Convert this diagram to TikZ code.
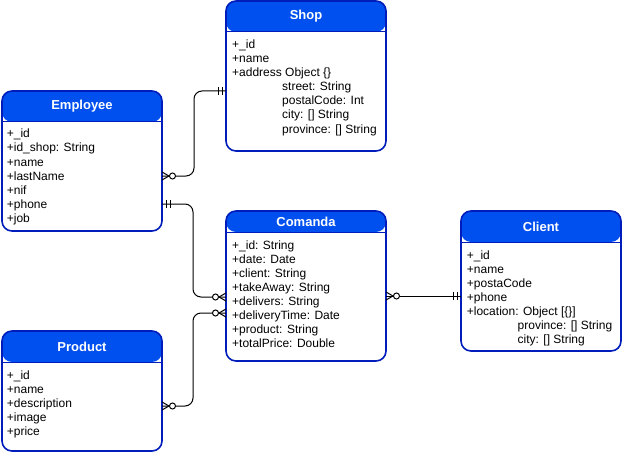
\documentclass[tikz,border=0pt]{standalone}
\usepackage{fontspec}
\setmainfont{Liberation Sans}
\definecolor{hdr}{HTML}{0050EF}
\definecolor{bdr}{HTML}{001DBC}
\newcommand\rows[4]{\foreach \rowtext [count=\i] in {#4} {\node[rowtxt] (#1\i) at (#2,{#3+14*(\i-1)}) {\rowtext};}}
\begin{document}
\begin{tikzpicture}[x=1pt,y=-1pt,
  rowtxt/.style={font=\fontsize{12}{14}\selectfont, inner sep=0pt, anchor=base west},
  title/.style={font=\fontsize{13}{15}\selectfont\bfseries, text=white, inner sep=0pt},
  entbox/.style={draw=bdr, line width=1.6pt, rounded corners=10pt, inner sep=0pt, outer sep=0pt,
    anchor=north west, fill=white, minimum width=160pt,
    path picture={\fill[hdr] (path picture bounding box.north west) rectangle ([yshift=-#1]path picture bounding box.north east);
      \draw[bdr, line width=1pt] ([yshift=-#1]path picture bounding box.north west) -- ([yshift=-#1]path picture bounding box.north east);}},
  entbox/.default=31pt,
  conn/.style={line width=1pt, rounded corners=8pt},
  zm/.pic={\draw[line width=1pt] (0,-4) -- (7,0) -- (0,4); \draw[line width=1pt, fill=white] (10.5,0) circle (3);},
  mo/.pic={\draw[line width=1pt] (4,-4) -- (4,4) (8,-4) -- (8,4);}
]
\useasboundingbox (0,0) rectangle (622,452);

% connectors
\coordinate (empS) at (162,176);
\coordinate (shopE) at (226,91);
\coordinate (empC) at (162,204);
\coordinate (comE) at (226,297);
\coordinate (prodC) at (162,406);
\coordinate (comP) at (226,313);
\coordinate (comL) at (386,296);
\coordinate (cliC) at (461,296);

% entities
\node[entbox, minimum height=150pt] (shop) at (226,1) {};
\node[title] (shopt) at (306,16.5) {Shop};
\rows{shopr}{232}{49}{+\_id, +name, +address Object \{\}}
\rows{shopi}{282}{91}{street: String, postalCode: Int, city: [] String, province: [] String}

\node[entbox, minimum height=140pt] (emp) at (2,91) {};
\node[title] (empt) at (82,106.5) {Employee};
\rows{empr}{6.7}{138}{+\_id, +id\_shop: String, +name, +lastName, +nif, +phone, +job}

\node[entbox=21pt, minimum height=150pt] (com) at (226,211) {};
\node[title] (comt) at (306,221.5) {Comanda};
\rows{comr}{232}{249}{+\_id: String, +date: Date, +client: String, +takeAway: String, +delivers: String, +deliveryTime: Date, +product: String, +totalPrice: Double}

\node[entbox, minimum height=140pt] (cli) at (461,211) {};
\node[title] (clit) at (541,226.5) {Client};
\rows{clir}{466.7}{259}{+\_id, +name, +postaCode, +phone, +location: Object [\{\}]}
\rows{clii}{517.5}{329}{province: [] String, city: [] String}

\node[entbox, minimum height=120pt] (prod) at (2,331) {};
\node[title] (prodt) at (82,346.5) {Product};
\rows{prodr}{6.7}{379}{+\_id, +name, +description, +image, +price}

\draw[conn] (empS) -- ++(32,0) |- (shopE);
\draw[conn] (empC) -- ++(31,0) |- (comE);
\draw[conn] (prodC) -- ++(31,0) |- (comP);
\draw[conn] (comL) -- (cliC);

\pic at (empS) {zm};
\pic[xscale=-1] at (shopE) {mo};
\pic at (empC) {mo};
\pic[xscale=-1] at (comE) {zm};
\pic at (prodC) {zm};
\pic[xscale=-1] at (comP) {zm};
\pic at (comL) {zm};
\pic[xscale=-1] at (cliC) {mo};
\end{tikzpicture}
\end{document}
